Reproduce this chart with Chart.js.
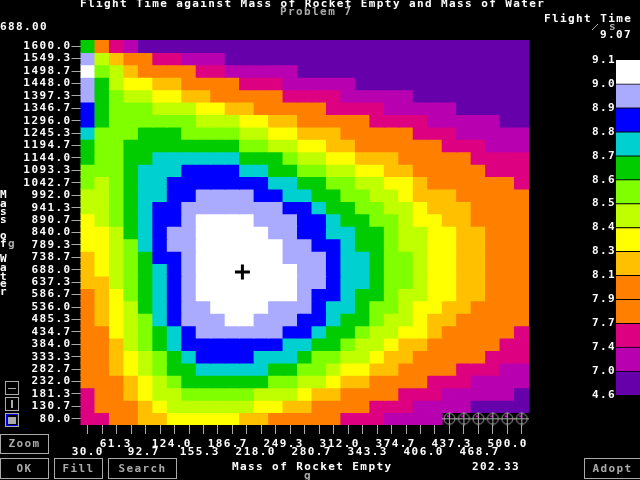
<!DOCTYPE html>
<html>
<head>
<meta charset="utf-8">
<script src="https://cdn.jsdelivr.net/npm/chart.js@4"></script>
<style>
  body { margin: 0; background: #000; }
  canvas { position: absolute; }
  #peta { left: 0; top: 0; }
  #skala { left: 540px; top: 40px; }
</style>
</head>
<body>
<canvas id="peta" width="640" height="480"></canvas>
<canvas id="skala" width="100" height="370"></canvas>
<script>
const massRocket = [30, 45.67, 61.33, 77, 92.67, 108.33, 124, 139.67, 155.33, 171, 186.67, 202.33, 218, 233.67, 249.33, 265, 280.67, 296.33, 312, 327.67, 343.33, 359, 374.67, 390.33, 406, 421.67, 437.33, 453, 468.67, 484.33, 500];
const massWater = [1600, 1549.33, 1498.67, 1448, 1397.33, 1346.67, 1296, 1245.33, 1194.67, 1144, 1093.33, 1042.67, 992, 941.33, 890.67, 840, 789.33, 738.67, 688, 637.33, 586.67, 536, 485.33, 434.67, 384, 333.33, 282.67, 232, 181.33, 130.67, 80];
const rocketLabelsUpper = [61.3, 124, 186.7, 249.3, 312, 374.7, 437.3, 500];
const rocketLabelsLower = [30, 92.7, 155.3, 218, 280.7, 343.3, 406, 468.7];

// flight time, one row per water mass (top row first), one value per rocket mass
const flightTime = [
  [8.65,8,7.6,7.2,6.5,6.5,6.5,6.5,6.5,6.5,6.5,6.5,6.5,6.5,6.5,6.5,6.5,6.5,6.5,6.5,6.5,6.5,6.5,6.5,6.5,6.5,6.5,6.5,6.5,6.5,6.5],
  [8.95,8.45,8.2,8,8,7.6,7.6,7.2,7.2,7.2,6.5,6.5,6.5,6.5,6.5,6.5,6.5,6.5,6.5,6.5,6.5,6.5,6.5,6.5,6.5,6.5,6.5,6.5,6.5,6.5,6.5],
  [9.05,8.55,8.45,8.2,8,8,8,8,7.6,7.6,7.2,7.2,7.2,7.2,7.2,6.5,6.5,6.5,6.5,6.5,6.5,6.5,6.5,6.5,6.5,6.5,6.5,6.5,6.5,6.5,6.5],
  [8.95,8.65,8.45,8.35,8.35,8.2,8.2,8,8,8,8,7.6,7.6,7.6,7.2,7.2,7.2,7.2,7.2,6.5,6.5,6.5,6.5,6.5,6.5,6.5,6.5,6.5,6.5,6.5,6.5],
  [8.95,8.65,8.55,8.45,8.45,8.35,8.35,8.2,8.2,8,8,8,8,8,7.6,7.6,7.6,7.6,7.2,7.2,7.2,7.2,7.2,6.5,6.5,6.5,6.5,6.5,6.5,6.5,6.5],
  [8.85,8.65,8.55,8.55,8.55,8.45,8.45,8.45,8.35,8.35,8.2,8.2,8,8,8,8,8,7.6,7.6,7.6,7.6,7.2,7.2,7.2,7.2,7.2,6.5,6.5,6.5,6.5,6.5],
  [8.85,8.65,8.55,8.55,8.55,8.55,8.55,8.55,8.45,8.45,8.45,8.35,8.35,8.2,8.2,8,8,8,8,8,7.6,7.6,7.6,7.6,7.2,7.2,7.2,7.2,7.2,6.5,6.5],
  [8.75,8.55,8.55,8.55,8.65,8.65,8.65,8.55,8.55,8.55,8.55,8.45,8.45,8.35,8.35,8.2,8.2,8.2,8,8,8,8,8,7.6,7.6,7.6,7.2,7.2,7.2,7.2,7.2],
  [8.65,8.55,8.55,8.65,8.65,8.65,8.65,8.65,8.65,8.65,8.65,8.55,8.55,8.45,8.45,8.35,8.35,8.2,8.2,8,8,8,8,8,8,7.6,7.6,7.6,7.2,7.2,7.2],
  [8.65,8.55,8.55,8.65,8.65,8.75,8.75,8.75,8.75,8.75,8.75,8.65,8.65,8.65,8.55,8.45,8.45,8.35,8.35,8.2,8.2,8.2,8,8,8,8,8,7.6,7.6,7.6,7.6],
  [8.55,8.55,8.55,8.65,8.75,8.75,8.75,8.85,8.85,8.85,8.85,8.75,8.75,8.65,8.65,8.55,8.55,8.45,8.45,8.35,8.35,8.2,8.2,8,8,8,8,8,7.6,7.6,7.6],
  [8.55,8.45,8.55,8.65,8.75,8.75,8.85,8.85,8.85,8.85,8.85,8.85,8.85,8.75,8.75,8.65,8.65,8.55,8.55,8.45,8.45,8.35,8.35,8.2,8,8,8,8,8,8,7.6],
  [8.45,8.45,8.55,8.65,8.75,8.75,8.85,8.85,8.95,8.95,8.95,8.95,8.85,8.85,8.75,8.75,8.65,8.65,8.55,8.55,8.45,8.45,8.35,8.2,8.2,8.2,8,8,8,8,8],
  [8.45,8.45,8.55,8.65,8.75,8.85,8.85,8.95,8.95,8.95,8.95,8.95,8.95,8.95,8.85,8.85,8.75,8.65,8.65,8.55,8.55,8.45,8.45,8.35,8.2,8.2,8.2,8,8,8,8],
  [8.35,8.45,8.55,8.65,8.75,8.85,8.85,8.95,9.05,9.05,9.05,9.05,8.95,8.95,8.95,8.85,8.85,8.75,8.65,8.65,8.55,8.55,8.45,8.35,8.35,8.2,8.2,8,8,8,8],
  [8.35,8.35,8.45,8.65,8.75,8.85,8.95,8.95,9.05,9.05,9.05,9.05,9.05,8.95,8.95,8.85,8.85,8.75,8.75,8.65,8.65,8.55,8.45,8.45,8.35,8.35,8.2,8.2,8,8,8],
  [8.35,8.35,8.45,8.55,8.75,8.85,8.95,8.95,9.05,9.05,9.05,9.05,9.05,9.05,8.95,8.95,8.85,8.85,8.75,8.65,8.65,8.55,8.45,8.45,8.35,8.35,8.2,8.2,8,8,8],
  [8.2,8.35,8.45,8.55,8.65,8.85,8.85,8.95,9.05,9.05,9.05,9.05,9.05,9.05,8.95,8.95,8.95,8.85,8.75,8.75,8.65,8.55,8.55,8.45,8.35,8.35,8.2,8.2,8,8,8],
  [8.2,8.35,8.45,8.55,8.65,8.75,8.85,8.95,9.05,9.05,9.05,9.05,9.05,9.05,9.05,8.95,8.95,8.85,8.75,8.75,8.65,8.55,8.55,8.45,8.35,8.35,8.2,8.2,8,8,8],
  [8.2,8.2,8.45,8.55,8.65,8.75,8.85,8.95,9.05,9.05,9.05,9.05,9.05,9.05,9.05,8.95,8.95,8.85,8.75,8.75,8.65,8.55,8.55,8.45,8.35,8.35,8.2,8.2,8,8,8],
  [8,8.2,8.35,8.55,8.65,8.75,8.85,8.95,9.05,9.05,9.05,9.05,9.05,9.05,9.05,8.95,8.85,8.85,8.75,8.65,8.65,8.55,8.45,8.45,8.35,8.35,8.2,8.2,8,8,8],
  [8,8.2,8.35,8.45,8.65,8.75,8.85,8.95,8.95,9.05,9.05,9.05,9.05,8.95,8.95,8.95,8.85,8.75,8.75,8.65,8.55,8.55,8.45,8.35,8.35,8.2,8.2,8,8,8,8],
  [8,8.2,8.35,8.45,8.55,8.75,8.85,8.95,8.95,8.95,9.05,9.05,8.95,8.95,8.95,8.85,8.85,8.75,8.65,8.65,8.55,8.45,8.45,8.35,8.2,8.2,8,8,8,8,8],
  [8,8,8.35,8.45,8.55,8.65,8.75,8.85,8.95,8.95,8.95,8.95,8.95,8.95,8.85,8.85,8.75,8.65,8.65,8.55,8.45,8.45,8.35,8.35,8.2,8,8,8,8,8,7.6],
  [8,8,8.2,8.45,8.55,8.65,8.75,8.85,8.85,8.85,8.85,8.85,8.85,8.85,8.75,8.75,8.65,8.65,8.55,8.45,8.45,8.35,8.2,8.2,8,8,8,8,8,7.6,7.6],
  [8,8,8.2,8.35,8.45,8.55,8.65,8.75,8.85,8.85,8.85,8.85,8.75,8.75,8.75,8.65,8.55,8.55,8.45,8.45,8.35,8.2,8.2,8,8,8,8,8,7.6,7.6,7.6],
  [8,8,8.2,8.35,8.45,8.55,8.65,8.65,8.75,8.75,8.75,8.75,8.75,8.65,8.65,8.55,8.55,8.45,8.35,8.35,8.2,8.2,8,8,8,8,7.6,7.6,7.6,7.2,7.2],
  [8,8,8,8.2,8.35,8.45,8.55,8.65,8.65,8.65,8.65,8.65,8.65,8.55,8.55,8.45,8.45,8.35,8.2,8.2,8,8,8,8,7.6,7.6,7.6,7.2,7.2,7.2,7.2],
  [7.6,8,8,8.2,8.35,8.45,8.45,8.55,8.55,8.55,8.55,8.55,8.45,8.45,8.45,8.35,8.2,8.2,8,8,8,8,7.6,7.6,7.6,7.2,7.2,7.2,7.2,7.2,6.5],
  [7.6,8,8,8,8.2,8.35,8.45,8.45,8.45,8.45,8.45,8.45,8.35,8.35,8.2,8.2,8,8,8,8,7.6,7.6,7.6,7.2,7.2,7.2,7.2,6.5,6.5,6.5,6.5],
  [7.6,7.6,8,8,8.2,8.2,8.35,8.35,8.35,8.35,8.35,8.2,8.2,8,8,8,8,8,7.6,7.6,7.6,7.2,7.2,7.2,7.2,null,null,null,null,null,null]
];

const legendEdges = [4.6, 7.0, 7.4, 7.7, 7.9, 8.1, 8.3, 8.4, 8.5, 8.6, 8.7, 8.8, 8.9, 9.0, 9.1];
const legendColors = ["#6600aa", "#b800b0", "#dd0080", "#ff8000", "#ff8000", "#ffc000", "#ffff00", "#c0ff00", "#80ff00", "#00cc00", "#00d0d0", "#0000ff", "#aaaaff", "#ffffff"];

const missingX = [421.67, 437.33, 453, 468.67, 484.33, 500];
const missingY = [80, 80, 80, 80, 80, 80];
const optimumX = [197.5];
const optimumY = [679];

const GREY = "#aaaaaa";
const FONT = 'bold 11px "DejaVu Sans Mono"';
const SPASI = "1.4px";
const tickFont = { family: "DejaVu Sans Mono", size: 11, weight: "bold", lineHeight: 8 / 11 };

const halfX = (massRocket[1] - massRocket[0]) / 2;
const halfY = (massWater[0] - massWater[1]) / 2;

function warnaSel(v) {
  for (let i = 0; i < legendColors.length; i++) {
    if (v < legendEdges[i + 1]) return legendColors[i];
  }
  return legendColors[legendColors.length - 1];
}

// Bikin target kecil untuk titik yang datanya hilang
function buatTarget() {
  const c = document.createElement("canvas");
  c.width = 15;
  c.height = 15;
  const g = c.getContext("2d");
  g.strokeStyle = GREY;
  g.beginPath();
  g.arc(7.5, 7.5, 5.5, 0, Math.PI * 2);
  g.moveTo(0, 7.5);
  g.lineTo(15, 7.5);
  g.moveTo(7.5, 1);
  g.lineTo(7.5, 15);
  g.stroke();
  g.fillStyle = "#dd00dd";
  g.fillRect(5, 4, 2, 2);
  return c;
}

const rowDatasets = flightTime.map((row, r) => {
  const cells = [];
  const colors = [];
  row.forEach((v, c) => {
    if (v === null) return;
    cells.push({ x: massRocket[c], y: [massWater[r] - halfY, massWater[r] + halfY] });
    colors.push(warnaSel(v));
  });
  return {
    type: "bar",
    data: cells,
    backgroundColor: colors,
    barPercentage: 1,
    categoryPercentage: 1,
    grouped: false,
    inflateAmount: 0.5, // supaya tidak ada garis tipis antar sel
    order: 2,
  };
});

const teksPlugin = {
  id: "teks",
  beforeDraw(chart) {
    chart.ctx.letterSpacing = SPASI;
  },
  afterDraw(chart) {
    const ctx = chart.ctx;
    ctx.save();
    ctx.font = FONT;
    ctx.textBaseline = "middle";
    const tulis = (s, x, y, warna) => {
      ctx.fillStyle = warna || "#ffffff";
      ctx.fillText(s, x, y);
    };
    tulis("Flight Time against Mass of Rocket Empty and Mass of Water", 80, 4);
    tulis("Problem 7", 280, 12, GREY);
    tulis("688.00", 0, 27);
    tulis("Flight Time", 544, 19);
    tulis("s", 609, 27, GREY);
    tulis("9.07", 600, 35);
    tulis("Mass of Rocket Empty", 232, 467);
    tulis("g", 304, 476, GREY);
    tulis("202.33", 472, 467);

    const huruf = [["M", 195], ["a", 204], ["s", 212], ["s", 220], ["o", 236], ["f", 244], ["W", 259], ["a", 268], ["t", 277], ["e", 284], ["r", 292]];
    huruf.forEach(([h, y]) => tulis(h, 0, y));
    tulis("g", 8, 244, GREY);

    ctx.strokeStyle = GREY;
    ctx.beginPath();
    ctx.moveTo(592, 30);
    ctx.lineTo(598, 24);
    ctx.stroke();

    const tombol = [["Zoom", 0.5, 434.5, 48, 19], ["OK", 0.5, 458.5, 48, 20], ["Fill", 54.5, 458.5, 48, 20], ["Search", 108.5, 458.5, 68, 20], ["Adopt", 584.5, 458.5, 56, 20]];
    tombol.forEach(([s, x, y, w, h]) => {
      ctx.strokeStyle = GREY;
      ctx.lineWidth = 1;
      ctx.strokeRect(x, y, w, h);
      ctx.textAlign = "center";
      tulis(s, x + w / 2, y + h / 2 + 0.5, GREY);
      ctx.textAlign = "left";
    });

    ctx.strokeStyle = GREY;
    ctx.strokeRect(5.5, 381.5, 13, 13);
    ctx.strokeRect(5.5, 397.5, 13, 13);
    ctx.fillStyle = GREY;
    ctx.fillRect(8, 388, 8, 1);
    ctx.fillRect(11, 400, 2, 8);
    ctx.strokeRect(5.5, 413.5, 13, 13);
    ctx.strokeStyle = "#0000ff";
    ctx.strokeRect(6.5, 414.5, 11, 11);
    ctx.fillRect(8, 417, 8, 7);
    ctx.restore();
  },
};

new Chart(document.getElementById("peta"), {
  type: "bar",
  data: {
    datasets: [
      ...rowDatasets,
      {
        type: "scatter",
        data: missingX.map((x, i) => ({ x, y: missingY[i] })),
        pointStyle: buatTarget(),
        clip: false,
        order: 1,
      },
      {
        type: "scatter",
        data: optimumX.map((x, i) => ({ x, y: optimumY[i] })),
        pointStyle: "cross",
        pointRadius: 7.5,
        pointBorderColor: "#000000",
        pointBorderWidth: 3,
        order: 0,
      },
    ],
  },
  options: {
    responsive: false,
    animation: false,
    layout: { padding: { left: 0, right: 111, top: 40, bottom: 0 } },
    plugins: { legend: { display: false }, tooltip: { enabled: false } },
    scales: {
      x: {
        type: "linear",
        position: "bottom",
        offset: false,
        min: massRocket[0] - halfX,
        max: massRocket[massRocket.length - 1] + halfX,
        afterBuildTicks: (s) => { s.ticks = massRocket.map((value) => ({ value })); },
        afterFit: (s) => { s.height = 9; },
        ticks: { display: false },
        border: { display: false },
        grid: { offset: false, drawOnChartArea: false, color: GREY, tickLength: 9 },
      },
      // label sumbu x tidak tepat di garis tick, jadi pakai sumbu sendiri
      xLabel: {
        type: "linear",
        position: "bottom",
        weight: 1,
        offset: false,
        min: 21.94,
        max: 523.9,
        afterBuildTicks: (s) => {
          s.ticks = massRocket.filter((v, i) => i % 2 === 0).map((value) => ({ value }));
        },
        afterFit: (s) => { s.height = 46; },
        border: { display: false },
        grid: { display: false, drawTicks: false, tickLength: 0 },
        ticks: {
          color: "#ffffff",
          font: tickFont,
          padding: 6,
          autoSkip: false,
          maxRotation: 0,
          callback: (v, i) => {
            const upper = i % 2 === 1;
            const label = (upper ? rocketLabelsUpper : rocketLabelsLower)[(i - (upper ? 1 : 0)) / 2].toFixed(1);
            return upper ? [label, ""] : ["", label];
          },
        },
      },
      y: {
        type: "linear",
        min: massWater[massWater.length - 1] - halfY,
        max: massWater[0] + halfY,
        afterBuildTicks: (s) => { s.ticks = massWater.map((value) => ({ value })); },
        afterFit: (s) => { s.width = 80.5; },
        border: { display: false },
        grid: { drawOnChartArea: false, color: GREY, tickLength: 9 },
        ticks: {
          color: "#ffffff",
          font: { family: "DejaVu Sans Mono", size: 11, weight: "bold" },
          padding: 0,
          autoSkip: false,
          callback: (v) => v.toFixed(1),
        },
      },
    },
  },
  plugins: [teksPlugin],
});

// Skala warna di kanan
new Chart(document.getElementById("skala"), {
  type: "bar",
  data: {
    labels: [""],
    datasets: legendColors.map((warna, i) => ({
      data: [[i, i + 1]],
      backgroundColor: warna,
      borderColor: "#000000",
      borderWidth: { top: i === legendColors.length - 1 ? 0 : 1, bottom: 0, left: 0, right: 0 },
      borderSkipped: false,
      barPercentage: 1,
      categoryPercentage: 1,
      grouped: false,
    })),
  },
  options: {
    responsive: false,
    animation: false,
    layout: { padding: { top: 20, bottom: 15, left: 0, right: 0 } },
    plugins: { legend: { display: false }, tooltip: { enabled: false } },
    scales: {
      x: { display: false },
      y: {
        min: 0,
        max: legendEdges.length - 1,
        afterBuildTicks: (s) => { s.ticks = legendEdges.map((e, i) => ({ value: i })); },
        afterFit: (s) => { s.width = 76; },
        border: { display: false },
        grid: { display: false, drawTicks: false, tickLength: 0 },
        ticks: {
          color: "#ffffff",
          font: { family: "DejaVu Sans Mono", size: 11, weight: "bold" },
          padding: 0,
          autoSkip: false,
          callback: (v) => legendEdges[v].toFixed(1),
        },
      },
    },
  },
  plugins: [{ id: "spasi", beforeDraw(chart) { chart.ctx.letterSpacing = SPASI; } }],
});
</script>
</body>
</html>
